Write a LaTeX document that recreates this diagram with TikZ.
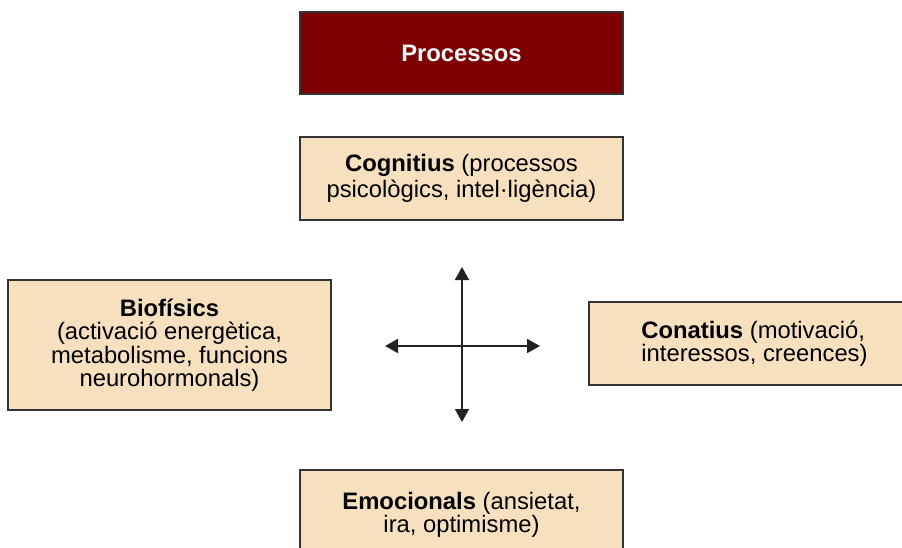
\documentclass[tikz,border=0pt]{standalone}
\usepackage{fontspec}
\setmainfont{Liberation Sans}
\usetikzlibrary{arrows.meta}
\definecolor{darkred}{HTML}{7F0000}
\definecolor{wheatfill}{HTML}{F6E0BD}
\definecolor{boxline}{HTML}{333333}
\definecolor{arrowcol}{HTML}{222222}
\tikzset{
  box/.style={draw=boxline, line width=1.5pt, fill=wheatfill, inner sep=0pt,
    font=\fontsize{23.8}{23.5}\selectfont, align=center},
  titlebox/.style={box, fill=darkred, text=white, font=\fontsize{23.8}{23.5}\selectfont\bfseries},
  axisarrow/.style={draw=arrowcol, line width=1.8pt, {Triangle[width=14pt,length=13pt]}-{Triangle[width=14pt,length=13pt]}}
}
\begin{document}
\begin{tikzpicture}[x=1pt,y=-1pt]
\useasboundingbox (0,0) rectangle (902,547);
\clip (0,0) rectangle (902,547);
\node[titlebox, minimum width=323pt, minimum height=82pt] (proc) at (461.5,53) {\raisebox{-3pt}{Processos}};
\node[box, minimum width=323pt, minimum height=83pt] (cog) at (461.5,178.5) {\raisebox{-2pt}{\shortstack{\textbf{Cognitius} (processos\\psicològics, intel·ligència)}}};
\node[box, minimum width=323pt, minimum height=130pt] (bio) at (169.5,345) {\textbf{Biofísics}\\(activació energètica,\\metabolisme, funcions\\neurohormonals)};
\node[box, align=left, minimum width=331pt, minimum height=83pt] (con) at (754.5,343.5) {\textbf{Conatius} (motivació,\\interessos, creences)};
\node[box, minimum width=323pt, minimum height=90pt] (emo) at (461.5,515) {\textbf{Emocionals} (ansietat,\\ira, optimisme)};
\coordinate (up) at (462,267);
\coordinate (down) at (462,422);
\coordinate (left) at (385,346);
\coordinate (right) at (540,346);
\draw[axisarrow] (left) -- (right);
\draw[axisarrow] (down) -- (up);
\end{tikzpicture}
\end{document}
